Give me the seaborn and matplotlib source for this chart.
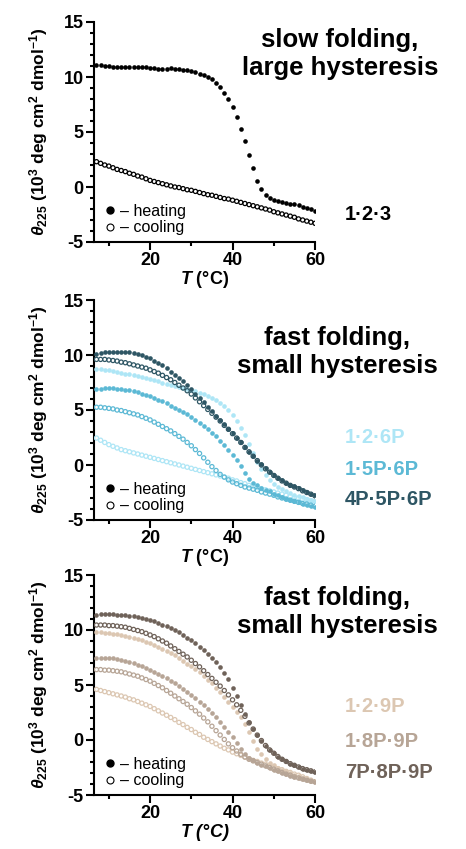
import matplotlib
matplotlib.use("Agg")
import matplotlib.pyplot as plt
from matplotlib.lines import Line2D
from matplotlib.ticker import MultipleLocator
import pandas as pd
import seaborn as sns

# temperature grid of the CD melts (1 degree steps)
temp_c = list(range(7, 61))

# panel 1: 1.2.3
h_123 = [11.1, 11.05, 11.0, 11.0, 10.95, 10.95, 10.9, 10.9, 10.9, 10.9,
         10.9, 10.9, 10.9, 10.85, 10.8, 10.75, 10.7, 10.75, 10.8, 10.75,
         10.7, 10.65, 10.6, 10.55, 10.45, 10.3, 10.15, 10.0, 9.8, 9.45,
         9.05, 8.55, 8.0, 7.3, 6.4, 5.3, 4.2, 2.9, 1.7, 0.55,
         -0.2, -0.7, -1.0, -1.15, -1.25, -1.35, -1.45, -1.5, -1.55, -1.65,
         -1.8, -1.9, -2.0, -2.15]
c_123 = [2.3, 2.15, 2.0, 1.9, 1.75, 1.6, 1.5, 1.4, 1.25, 1.15,
         1.0, 0.9, 0.75, 0.6, 0.5, 0.4, 0.3, 0.2, 0.1, 0.0,
         -0.05, -0.15, -0.25, -0.3, -0.4, -0.5, -0.6, -0.7, -0.75, -0.85,
         -0.95, -1.05, -1.1, -1.2, -1.3, -1.4, -1.5, -1.6, -1.7, -1.8,
         -1.9, -2.0, -2.1, -2.25, -2.35, -2.45, -2.55, -2.65, -2.75, -2.9,
         -3.0, -3.1, -3.2, -3.3]

# panel 2: 6P series
h_126p = [8.75, 8.7, 8.65, 8.6, 8.55, 8.45, 8.4, 8.3, 8.25, 8.15,
          8.05, 8.0, 7.9, 7.8, 7.7, 7.6, 7.5, 7.4, 7.3, 7.2,
          7.1, 7.0, 6.9, 6.8, 6.7, 6.55, 6.45, 6.3, 6.1, 5.9,
          5.65, 5.35, 5.0, 4.55, 4.0, 3.4, 2.75, 1.95, 1.1, 0.3,
          -0.4, -0.95, -1.4, -1.7, -2.0, -2.2, -2.4, -2.55, -2.7, -2.85,
          -2.95, -3.05, -3.2, -3.3]
c_126p = [2.45, 2.25, 2.05, 1.85, 1.7, 1.55, 1.4, 1.3, 1.2, 1.1,
          1.0, 0.9, 0.8, 0.7, 0.6, 0.5, 0.4, 0.3, 0.2, 0.1,
          0.0, -0.1, -0.2, -0.3, -0.4, -0.5, -0.6, -0.7, -0.8, -0.9,
          -1.0, -1.1, -1.2, -1.35, -1.45, -1.6, -1.7, -1.85, -1.95, -2.05,
          -2.15, -2.25, -2.35, -2.45, -2.55, -2.65, -2.75, -2.85, -2.95, -3.0,
          -3.1, -3.15, -3.25, -3.3]
h_15p6p = [6.9, 6.95, 7.0, 7.0, 7.0, 6.95, 6.9, 6.85, 6.8, 6.7,
           6.6, 6.5, 6.4, 6.25, 6.1, 5.95, 5.8, 5.6, 5.4, 5.2,
           5.0, 4.8, 4.6, 4.35, 4.1, 3.85, 3.55, 3.25, 2.95, 2.6,
           2.2, 1.8, 1.4, 0.95, 0.45, -0.1, -0.7, -1.25, -1.6, -1.85,
           -2.05, -2.25, -2.4, -2.6, -2.75, -2.9, -3.05, -3.2, -3.3, -3.4,
           -3.5, -3.6, -3.7, -3.8]
c_15p6p = [5.25, 5.25, 5.2, 5.15, 5.1, 5.0, 4.95, 4.85, 4.75, 4.65,
           4.55, 4.4, 4.25, 4.1, 3.9, 3.7, 3.5, 3.3, 3.1, 2.85,
           2.6, 2.35, 2.05, 1.75, 1.4, 1.05, 0.65, 0.25, -0.15, -0.5,
           -0.85, -1.1, -1.35, -1.55, -1.7, -1.85, -2.0, -2.1, -2.2, -2.3,
           -2.45, -2.55, -2.65, -2.75, -2.9, -3.0, -3.1, -3.2, -3.3, -3.4,
           -3.5, -3.55, -3.65, -3.75]
h_4p5p6p = [10.1, 10.2, 10.25, 10.3, 10.3, 10.3, 10.3, 10.3, 10.25, 10.2,
            10.1, 10.0, 9.85, 9.7, 9.5, 9.3, 9.05, 8.8, 8.5, 8.2,
            7.9, 7.6, 7.25, 6.9, 6.5, 6.1, 5.7, 5.3, 4.9, 4.5,
            4.1, 3.7, 3.3, 2.9, 2.5, 2.05, 1.65, 1.2, 0.8, 0.4,
            0.05, -0.3, -0.6, -0.9, -1.15, -1.4, -1.6, -1.8, -1.95, -2.1,
            -2.3, -2.45, -2.6, -2.75]
c_4p5p6p = [9.6, 9.6, 9.6, 9.55, 9.5, 9.45, 9.35, 9.3, 9.2, 9.1,
            9.0, 8.9, 8.8, 8.65, 8.5, 8.35, 8.15, 7.95, 7.75, 7.5,
            7.25, 7.0, 6.75, 6.45, 6.1, 5.75, 5.4, 5.05, 4.7, 4.35,
            4.0, 3.6, 3.25, 2.85, 2.45, 2.05, 1.6, 1.2, 0.8, 0.4,
            0.0, -0.35, -0.65, -0.95, -1.2, -1.45, -1.65, -1.85, -2.0, -2.15,
            -2.35, -2.5, -2.65, -2.8]

# panel 3: 9P series
h_129p = [9.85, 9.8, 9.75, 9.7, 9.65, 9.6, 9.55, 9.45, 9.35, 9.25,
          9.15, 9.05, 8.95, 8.8, 8.65, 8.5, 8.3, 8.1, 7.9, 7.7,
          7.45, 7.2, 6.95, 6.7, 6.45, 6.15, 5.85, 5.5, 5.15, 4.75,
          4.35, 3.95, 3.5, 3.0, 2.55, 2.05, 1.45, 0.7, -0.1, -0.8,
          -1.3, -1.7, -2.05, -2.3, -2.5, -2.7, -2.85, -3.0, -3.15, -3.3,
          -3.45, -3.55, -3.65, -3.75]
c_129p = [4.6, 4.5, 4.4, 4.3, 4.2, 4.1, 4.0, 3.9, 3.75, 3.65,
          3.5, 3.35, 3.2, 3.05, 2.85, 2.65, 2.45, 2.25, 2.05, 1.85,
          1.6, 1.4, 1.15, 0.95, 0.7, 0.5, 0.25, 0.05, -0.15, -0.35,
          -0.55, -0.75, -0.9, -1.1, -1.25, -1.4, -1.55, -1.7, -1.85, -1.95,
          -2.1, -2.2, -2.35, -2.45, -2.6, -2.7, -2.85, -2.95, -3.1, -3.2,
          -3.35, -3.5, -3.65, -3.8]
h_18p9p = [7.45, 7.5, 7.5, 7.5, 7.45, 7.4, 7.3, 7.2, 7.1, 7.0,
           6.85, 6.7, 6.55, 6.4, 6.2, 6.0, 5.8, 5.6, 5.4, 5.15,
           4.9, 4.65, 4.4, 4.1, 3.8, 3.5, 3.15, 2.8, 2.45, 2.05,
           1.65, 1.2, 0.75, 0.25, -0.3, -0.85, -1.3, -1.6, -1.85, -2.05,
           -2.25, -2.4, -2.55, -2.7, -2.85, -3.0, -3.1, -3.25, -3.35, -3.45,
           -3.55, -3.65, -3.7, -3.8]
c_18p9p = [6.4, 6.4, 6.35, 6.35, 6.3, 6.25, 6.2, 6.1, 6.0, 5.9,
           5.8, 5.65, 5.5, 5.35, 5.15, 4.95, 4.75, 4.5, 4.25, 4.0,
           3.75, 3.5, 3.25, 2.95, 2.65, 2.35, 2.0, 1.65, 1.25, 0.85,
           0.45, 0.05, -0.35, -0.7, -1.0, -1.3, -1.55, -1.75, -1.9, -2.05,
           -2.2, -2.35, -2.5, -2.65, -2.8, -2.95, -3.1, -3.2, -3.35, -3.45,
           -3.55, -3.65, -3.75, -3.8]
h_7p8p9p = [11.4, 11.45, 11.45, 11.45, 11.45, 11.4, 11.4, 11.35, 11.3, 11.25,
            11.2, 11.1, 11.0, 10.9, 10.8, 10.65, 10.5, 10.35, 10.2, 10.0,
            9.8, 9.55, 9.3, 9.05, 8.8, 8.5, 8.2, 7.85, 7.45, 7.05,
            6.6, 6.1, 5.55, 4.7, 4.0, 3.2, 2.4, 1.6, 1.0, 0.45,
            -0.05, -0.5, -0.9, -1.2, -1.5, -1.75, -1.95, -2.15, -2.3, -2.45,
            -2.6, -2.7, -2.8, -2.9]
c_7p8p9p = [10.45, 10.45, 10.45, 10.4, 10.4, 10.35, 10.3, 10.25, 10.15, 10.05,
            9.95, 9.85, 9.7, 9.55, 9.4, 9.2, 9.0, 8.8, 8.55, 8.3,
            8.05, 7.8, 7.55, 7.25, 6.95, 6.65, 6.3, 5.95, 5.6, 5.25,
            4.9, 4.5, 4.1, 3.65, 3.2, 2.7, 2.15, 1.55, 1.0, 0.45,
            -0.05, -0.5, -0.9, -1.2, -1.5, -1.75, -1.95, -2.15, -2.3, -2.45,
            -2.6, -2.7, -2.8, -2.9]

names_1 = ["1·2·3"]
names_2 = ["1·2·6P", "1·5P·6P", "4P·5P·6P"]
names_3 = ["1·2·9P", "1·8P·9P", "7P·8P·9P"]
colors_1 = ["#000000"]
colors_2 = ["#aee6f6", "#5cb9d5", "#2e5664"]
colors_3 = ["#dcc7b2", "#b7a596", "#6f6259"]
titles = ["slow folding,\nlarge hysteresis",
          "fast folding,\nsmall hysteresis",
          "fast folding,\nsmall hysteresis"]

sns.set_style("ticks")
plt.rcParams["font.family"] = ["Liberation Sans", "DejaVu Sans"]
plt.rcParams["font.weight"] = "bold"
plt.rcParams["text.color"] = "black"
plt.rcParams["axes.labelcolor"] = "black"
plt.rcParams["axes.edgecolor"] = "black"
plt.rcParams["xtick.color"] = "black"
plt.rcParams["ytick.color"] = "black"
plt.rcParams["axes.unicode_minus"] = False
plt.rcParams["mathtext.fontset"] = "custom"
plt.rcParams["mathtext.rm"] = "Liberation Sans:bold"
plt.rcParams["mathtext.it"] = "Liberation Sans:italic:bold"
plt.rcParams["mathtext.bf"] = "Liberation Sans:bold"


def make_df(names, heat, cool):
    rows = []
    for n, h, c in zip(names, heat, cool):
        rows.append(pd.DataFrame({"T": temp_c, "theta": h, "sample": n, "run": "heating"}))
        rows.append(pd.DataFrame({"T": temp_c, "theta": c, "sample": n, "run": "cooling"}))
    return pd.concat(rows)


df1 = make_df(names_1, [h_123], [c_123])
df2 = make_df(names_2, [h_126p, h_15p6p, h_4p5p6p], [c_126p, c_15p6p, c_4p5p6p])
df3 = make_df(names_3, [h_129p, h_18p9p, h_7p8p9p], [c_129p, c_18p9p, c_7p8p9p])

fig = plt.figure(figsize=(4.66, 8.49), dpi=100)
W, H = 466, 849
ax_boxes = [(94, 22), (94, 300), (94, 575)]   # left, top in pixels

panels = [(df1, names_1, colors_1, [0.127], 1.113, 0.855),
          (df2, names_2, colors_2, [0.376, 0.231, 0.095], 1.10, 0.762),
          (df3, names_3, colors_3, [0.40, 0.245, 0.10], 1.10, 0.83)]

for i, (df, names, cols, lab_y, tx, ty) in enumerate(panels):
    left, top = ax_boxes[i]
    ax = fig.add_axes([left / W, 1 - (top + 220) / H, 221 / W, 220 / H])

    for n, col in zip(names, cols):
        sub = df[df["sample"] == n]
        sns.scatterplot(data=sub[sub["run"] == "cooling"], x="T", y="theta", ax=ax,
                        s=9, facecolor="none", edgecolor=col, linewidth=0.9,
                        legend=False, zorder=3)
        sns.scatterplot(data=sub[sub["run"] == "heating"], x="T", y="theta", ax=ax,
                        s=11, color=col, linewidth=0, legend=False, zorder=3)

    ax.set_xlim(6.4, 60)
    ax.set_ylim(-5, 15)
    ax.xaxis.set_major_locator(MultipleLocator(20))
    ax.xaxis.set_minor_locator(MultipleLocator(10))
    ax.yaxis.set_major_locator(MultipleLocator(5))
    ax.yaxis.set_minor_locator(MultipleLocator(1))
    ax.tick_params(which="major", length=6, width=1.5, labelsize=13, pad=1.5)
    ax.tick_params(which="minor", length=3, width=1.5)
    for sp in ["left", "bottom"]:
        ax.spines[sp].set_linewidth(1.5)
    sns.despine(ax=ax)
    for lb in ax.get_xticklabels() + ax.get_yticklabels():
        lb.set_fontweight("bold")

    ax.set_ylabel(r"$\theta_{225}$ (10$^{3}$ deg cm$^{2}$ dmol$^{-1}$)",
                  fontsize=12.5, fontweight="bold", va="center")
    ax.yaxis.set_label_coords(-0.25, 0.5)
    if i == 2:
        ax.set_xlabel(r"$T$ (°C)", fontsize=13, fontweight="bold", fontstyle="italic", labelpad=0)
    else:
        ax.set_xlabel(r"$T$ (°C)", fontsize=13, fontweight="bold", labelpad=0)

    handles = [Line2D([], [], ls="", marker="o", ms=5, color="k"),
               Line2D([], [], ls="", marker="o", ms=5, mfc="white", mec="k", mew=0.8)]
    ax.legend(handles, ["– heating", "– cooling"], loc="lower left",
              bbox_to_anchor=(0.0, -0.02), frameon=False, handlelength=0.6,
              handletextpad=0.35, labelspacing=0.1, borderaxespad=0.3,
              prop={"size": 11.5, "weight": "normal"})

    for n, col, yy in zip(names, cols, lab_y):
        ax.text(1.136, yy, n, color=col, transform=ax.transAxes, ha="left",
                va="center", fontsize=14.5, fontweight="bold")
    ax.text(tx, ty, titles[i], transform=ax.transAxes, ha="center", va="center",
            fontsize=18.5, fontweight="bold", linespacing=1.2)

fig.savefig("out.png", dpi=100)
